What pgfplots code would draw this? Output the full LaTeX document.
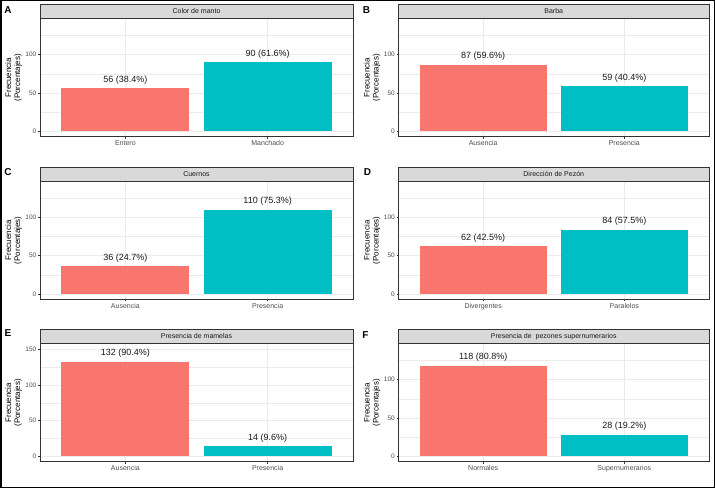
\documentclass[border=0pt]{standalone}
\usepackage{fontspec}
\setmainfont{Liberation Sans}
\usepackage{pgfplots}
\pgfplotsset{compat=1.18}

\definecolor{barred}{HTML}{F8766D}
\definecolor{barteal}{HTML}{00BFC4}
\definecolor{border}{HTML}{333333}
\definecolor{stripfill}{HTML}{D9D9D9}
\definecolor{gridcol}{HTML}{EBEBEB}
\definecolor{ticklab}{HTML}{4D4D4D}

\pgfplotsset{
  panel/.style={
    scale only axis, height=118pt, anchor=south west,
    clip=false,
    xmin=0.4, xmax=2.6, ymin=-7, ymax=147,
    xtick={1,2}, ytick={0,50,100}, minor ytick={25,75,125},
    xmajorgrids=true, ymajorgrids=true, yminorgrids=true,
    major grid style={color=gridcol, line width=0.5pt},
    minor grid style={color=gridcol, line width=0.3pt},
    tick align=outside, tick pos=left,
    major tick length=2pt, minor tick length=0pt,
    tick style={color=border, line width=0.5pt},
    axis line style={color=border, line width=0.5pt},
    /pgf/number format/assume math mode=true,
    yticklabel style={font=\fontsize{6.5}{7}\selectfont, text=ticklab, inner sep=1.5pt},
    xticklabel style={font=\fontsize{7}{8}\selectfont, text=ticklab, inner sep=2pt},
    ylabel={Frecuencia\\(Porcentajes)},
    every axis y label/.style={at={(rel axis cs:0,0.5)}, xshift=-26.5pt,
      rotate=90, anchor=center, align=center, font=\fontsize{8}{9}\selectfont},
    every axis title/.style={at={(rel axis cs:0.5,1)}, anchor=south,
      fill=stripfill, draw=border, line width=0.5pt, inner sep=0pt,
      minimum height=14pt, font=\fontsize{7}{8}\selectfont, text=black!90},
    point meta=explicit symbolic,
    nodes near coords,
    every node near coord/.append style={anchor=south, inner sep=0pt, yshift=4pt,
      font=\fontsize{9}{10}\selectfont, text=black!90},
  },
  leftp/.style={panel, width=313pt, title style={minimum width=313pt}},
  rightp/.style={panel, width=310.5pt, title style={minimum width=310.5pt}},
  redbar/.style={ybar, bar width=0.9, bar shift=0pt, fill=barred, draw=none},
  tealbar/.style={ybar, bar width=0.9, bar shift=0pt, fill=barteal, draw=none},
}

\begin{document}
\begin{tikzpicture}
\useasboundingbox (0,0) rectangle (715pt,488pt);
\draw[line width=1.5pt] (0.75pt,0.75pt) rectangle (714.25pt,487.25pt);

% A
\begin{axis}[leftp, at={(40pt,351.3pt)}, title={Color de manto},
  xticklabels={Entero,Manchado}]
  \addplot[redbar] coordinates {(1,56) [{56 (38.4\%)}]};
  \addplot[tealbar] coordinates {(2,90) [{90 (61.6\%)}]};
\end{axis}

% B
\begin{axis}[rightp, at={(398.5pt,351.3pt)}, title={Barba},
  xticklabels={Ausencia,Presencia}]
  \addplot[redbar] coordinates {(1,87) [{87 (59.6\%)}]};
  \addplot[tealbar] coordinates {(2,59) [{59 (40.4\%)}]};
\end{axis}

% C
\begin{axis}[leftp, at={(40pt,188.7pt)}, title={Cuernos},
  xticklabels={Ausencia,Presencia}]
  \addplot[redbar] coordinates {(1,36) [{36 (24.7\%)}]};
  \addplot[tealbar] coordinates {(2,110) [{110 (75.3\%)}]};
\end{axis}

% D
\begin{axis}[rightp, at={(398.5pt,188.7pt)}, title={Dirección de Pezón},
  xticklabels={Divergentes,Paralelos}]
  \addplot[redbar] coordinates {(1,62) [{62 (42.5\%)}]};
  \addplot[tealbar] coordinates {(2,84) [{84 (57.5\%)}]};
\end{axis}

% E
\begin{axis}[leftp, at={(40pt,26.3pt)}, title={Presencia de mamelas},
  ymin=-7.5, ymax=157.5, ytick={0,50,100,150},
  xticklabels={Ausencia,Presencia}]
  \addplot[redbar] coordinates {(1,132) [{132 (90.4\%)}]};
  \addplot[tealbar] coordinates {(2,14) [{14 (9.6\%)}]};
\end{axis}

% F
\begin{axis}[rightp, at={(398.5pt,26.3pt)}, title={Presencia de\ \ pezones supernumerarios},
  xticklabels={Normales,Supernumerarios}]
  \addplot[redbar] coordinates {(1,118) [{118 (80.8\%)}]};
  \addplot[tealbar] coordinates {(2,28) [{28 (19.2\%)}]};
\end{axis}

\begin{scope}[every node/.style={font=\bfseries\fontsize{10}{12}\selectfont, anchor=center}]
  \node at (8pt,478pt) {A};
  \node at (366.5pt,478pt) {B};
  \node at (8pt,315.5pt) {C};
  \node at (367.5pt,315.5pt) {D};
  \node at (8pt,154.5pt) {E};
  \node at (365.5pt,153pt) {F};
\end{scope}
\end{tikzpicture}
\end{document}
